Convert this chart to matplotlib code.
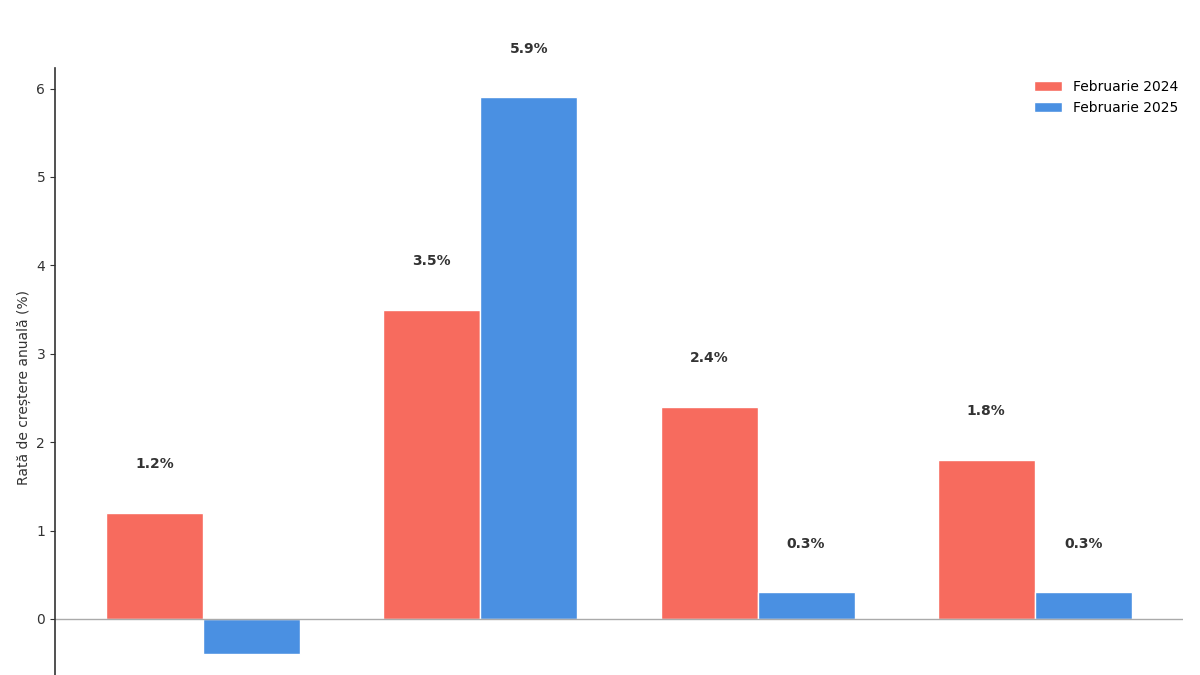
import matplotlib.pyplot as plt
import numpy as np

# values (annual growth, %)
groups = np.arange(4)
feb_2024 = [1.2, 3.5, 2.4, 1.8]
feb_2025 = [-0.4, 5.9, 0.3, 0.3]
series_names = ['Februarie 2024', 'Februarie 2025']
colors = ['#F76B5E', '#4A90E2']

fig = plt.figure(figsize=(12, 6.75), dpi=100)
# axes run past the bottom edge, as in the reference
ax = fig.add_axes([0.0458, -0.048, 0.94, 0.947])

w = 0.35
b1 = ax.bar(groups - w / 2, feb_2024, w, color=colors[0], edgecolor='white',
            linewidth=1, label=series_names[0])
b2 = ax.bar(groups + w / 2, feb_2025, w, color=colors[1], edgecolor='white',
            linewidth=1, label=series_names[1])

# value labels above the positive bars (the negative one falls off the picture)
for bars, vals in [(b1, feb_2024), (b2, feb_2025)]:
    for rect, v in zip(bars, vals):
        if v < 0:
            continue
        ax.text(rect.get_x() + rect.get_width() / 2, v + 0.55, f'{v}%',
                ha='center', va='center', fontsize=10, fontweight='bold',
                color='#333333')

ax.axhline(0, color='#aaaaaa', linewidth=1.0)
ax.set_ylim(-1.0, 6.23)
ax.set_yticks(range(0, 7))
ax.set_xticks([])
ax.set_ylabel('Rată de creștere anuală (%)', fontsize=10, color='#333333')
ax.tick_params(axis='y', labelsize=10, colors='#333333')
for s in ['top', 'right', 'bottom']:
    ax.spines[s].set_visible(False)
ax.spines['left'].set_color('#333333')
ax.spines['left'].set_linewidth(1.2)
ax.legend(loc='upper right', frameon=False, fontsize=10,
          bbox_to_anchor=(1.007, 1.001))

plt.savefig('out.png', dpi=100)
